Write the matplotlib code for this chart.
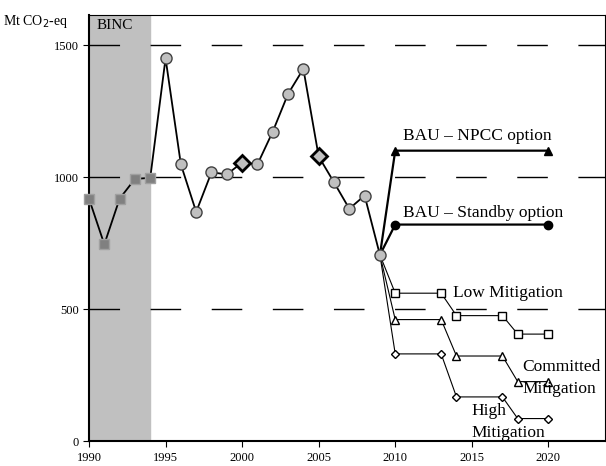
import matplotlib.pyplot as plt

plt.rcParams['font.family'] = ['Liberation Serif', 'DejaVu Serif']

hist_years = list(range(1990, 2010))
hist_vals = [918, 745, 918, 993, 997, 1450, 1048, 868, 1018, 1010,
             1055, 1048, 1172, 1315, 1410, 1078, 980, 880, 930, 705]
diamond_years = [2000, 2005]
diamond_vals = [1055, 1078]

bau_years = [2010, 2020]
npcc_vals = [1100, 1100]
standby_vals = [820, 820]

mit_years = [2010, 2013, 2014, 2017, 2018, 2020]
low_vals = [560, 560, 475, 475, 405, 405]
committed_vals = [460, 460, 322, 322, 225, 225]
high_vals = [330, 330, 167, 167, 85, 85]

fig = plt.figure(figsize=(6.06, 4.66), dpi=100)
ax = fig.add_axes([89 / 606, 1 - 441 / 466, (605 - 89) / 606, (441 - 15) / 466])

ax.axvspan(1990, 1994, color='#c0c0c0', zorder=0)
for y in [500, 1000, 1500]:
    ax.axhline(y, color='black', lw=1, dashes=(22, 22), zorder=1)

ax.plot(hist_years, hist_vals, color='black', lw=1.3, zorder=2)
ax.plot(hist_years[:5], hist_vals[:5], 's', color='#808080', ms=7, mec='#a0a0a0',
        zorder=3, clip_on=False)
ax.plot(hist_years[5:], hist_vals[5:], 'o', color='#c0c0c0', mec='#404040', ms=8, zorder=3)
ax.plot(diamond_years, diamond_vals, 'D', color='#c0c0c0', mec='black', mew=2, ms=8, zorder=4)

last = (hist_years[-1], hist_vals[-1])
for vals, mk in [(npcc_vals, '^'), (standby_vals, 'o')]:
    ax.plot([last[0]] + bau_years, [last[1]] + vals, color='black', lw=1.6, zorder=2)
    ax.plot(bau_years, vals, mk, color='black', ms=6, zorder=3)
for vals, mk in [(low_vals, 's'), (committed_vals, '^'), (high_vals, 'D')]:
    ax.plot([last[0]] + mit_years, [last[1]] + vals, color='black', lw=0.8, zorder=2)
    ax.plot(mit_years, vals, mk, mfc='white', mec='black', ms=6 if mk != 'D' else 4.5, zorder=3)

ax.text(2010.5, 1140, 'BAU \u2013 NPCC option', fontsize=12.5)
ax.text(2010.5, 850, 'BAU \u2013 Standby option', fontsize=12.5)
ax.text(2013.8, 545, 'Low Mitigation', fontsize=12.5)
ax.text(2018.3, 265, 'Committed', fontsize=12.5)
ax.text(2018.3, 180, 'Mitigation', fontsize=12.5)
ax.text(2015.0, 100, 'High', fontsize=12.5)
ax.text(2015.0, 15, 'Mitigation', fontsize=12.5)
ax.text(1990.5, 1560, 'BINC', fontsize=11)
fig.text(3 / 606, 1 - 22 / 466, 'Mt CO$_2$-eq', fontsize=10, va='center')

ax.set_xlim(1990, 2023.7)
ax.set_ylim(0, 1614)
ax.set_xticks([1990, 1995, 2000, 2005, 2010, 2015, 2020])
ax.set_yticks([0, 500, 1000, 1500])
ax.tick_params(labelsize=9, direction='out', length=4)
ax.tick_params(axis='x', pad=4)
for s in ax.spines.values():
    s.set_linewidth(0.8)
ax.spines['left'].set_linewidth(1.5)
ax.spines['bottom'].set_linewidth(1.5)

fig.savefig('out.png', dpi=100)
